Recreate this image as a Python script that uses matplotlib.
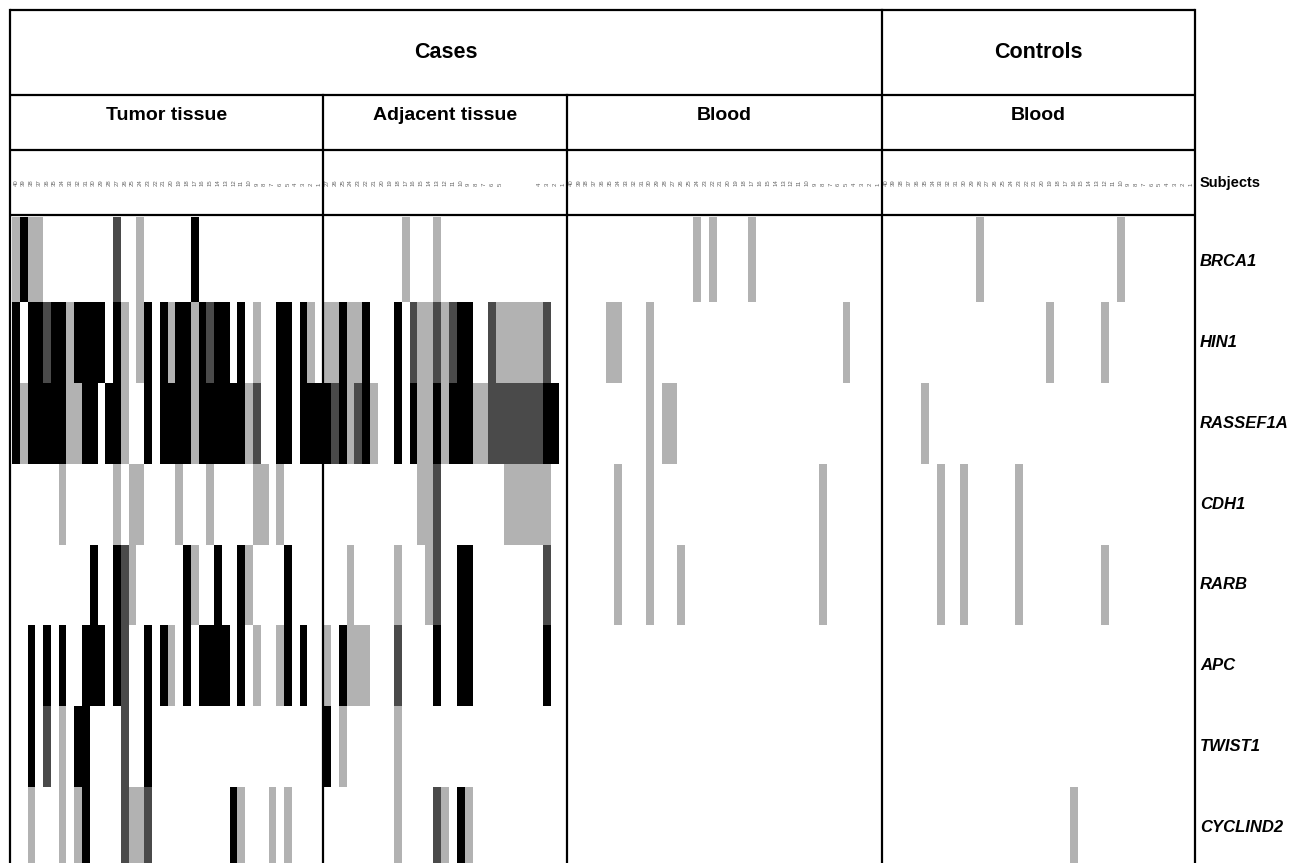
import matplotlib
matplotlib.use("Agg")
import matplotlib.pyplot as plt
import numpy as np
from matplotlib.colors import ListedColormap

# --- data: methylation status per subject (0 none, 1 light, 2 dark, 3 full) ---
genes = ["BRCA1", "HIN1", "RASSEF1A", "CDH1", "RARB", "APC", "TWIST1", "CYCLIND2"]
groups = ["Tumor tissue", "Adjacent tissue", "Blood", "Blood"]
top_groups = ["Cases", "Controls"]

tumor_rows = [
    "1311000000" "0002001000" "0003000000" "0000000000",
    "3033233133" "3303101303" "1331323303" "0100330310",
    "3133333113" "3033100303" "3331333333" "1200330333",
    "0000001000" "0001011000" "0100010000" "0110100000",
    "0000000000" "3003210000" "0031003003" "1000030000",
    "0030303003" "3303200303" "1030333303" "0100130300",
    "0030201033" "0000200300" "0000000000" "0000000000",
    "0010001013" "0000211200" "0000000031" "0001010000",
]
adjacent_rows = [
    "0000000000" "1000100000" "0000000000" "0",
    "1131130003" "0211212330" "0211111120" "0",
    "3231231003" "0311313331" "1222222233" "0",
    "0000000000" "0011200000" "0001111110" "0",
    "0001000001" "0001200330" "0000000020" "0",
    "1031110002" "0000300330" "0000000030" "0",
    "3010000001" "0000000000" "0000000000" "0",
    "0000000001" "0000210310" "0000000000" "0",
]
case_blood_rows = [
    "0000000000" "0000001010" "0001000000" "0000000000",
    "0000011000" "1000000000" "0000000000" "0000010000",
    "0000000000" "1011000000" "0000000000" "0000000000",
    "0000001000" "1000000000" "0000000000" "0010000000",
    "0000001000" "1000100000" "0000000000" "0010000000",
    "0" * 40,
    "0" * 40,
    "0" * 40,
]
control_blood_rows = [
    "0000000000" "0010000000" "0000000000" "1000000000",
    "0000000000" "0000000000" "0100000010" "0000000000",
    "0000010000" "0000000000" "0000000000" "0000000000",
    "0000000100" "1000000100" "0000000000" "0000000000",
    "0000000100" "1000000100" "0000000010" "0000000000",
    "0" * 40,
    "0" * 40,
    "0000000000" "0000000000" "0000100000" "0000000000",
]

# subject id labels (adjacent tissue has 4 unlabelled subjects)
tumor_ids = [str(i) for i in range(40, 0, -1)]
adjacent_ids = [str(i) for i in range(27, 4, -1)] + [""] * 4 + ["4", "3", "2", "1"]
case_blood_ids = [str(i) for i in range(40, 0, -1)]
control_ids = [str(i) for i in range(40, 0, -1)]


def to_matrix(rows):
    return np.array([[int(c) for c in r] for r in rows])


panels = [
    (to_matrix(tumor_rows), tumor_ids),
    (to_matrix(adjacent_rows), adjacent_ids),
    (to_matrix(case_blood_rows), case_blood_ids),
    (to_matrix(control_blood_rows), control_ids),
]

# --- layout (pixels) ---
W, H = 1293, 863
xb = [10, 323, 567, 882, 1195]     # group borders
heat_x0 = [12, 323, 567, 882]      # first cell column of each panel
y_top, y_h1, y_h2, y_h3 = 10, 95, 150, 215
heat_top, grid_top, heat_bot = 217, 221, 868

plt.rcParams["font.family"] = ["Liberation Sans", "DejaVu Sans"]
cmap = ListedColormap(["white", "#b2b2b2", "#4a4a4a", "black"])

fig = plt.figure(figsize=(W / 100, H / 100), dpi=100)
fig.patch.set_facecolor("white")

row_h = (heat_bot - grid_top) / len(genes)
y0 = -(grid_top - heat_top) / row_h      # first row reaches up to the frame line
y_edges = np.r_[y0, np.arange(1, len(genes) + 1)]

for k, (mat, ids) in enumerate(panels):
    x0, x1 = heat_x0[k], xb[k + 1]
    ax = fig.add_axes([x0 / W, 1 - heat_bot / H, (x1 - x0) / W, (heat_bot - heat_top) / H])
    ax.pcolormesh(np.arange(mat.shape[1] + 1), y_edges, mat, cmap=cmap, vmin=-0.5, vmax=3.5)
    ax.set_xlim(0, mat.shape[1])
    ax.set_ylim(len(genes), y0)
    ax.set_xticks(np.arange(mat.shape[1]) + 0.5)
    ax.set_xticklabels(ids, rotation=90, fontsize=4.3, color="#666666")
    ax.xaxis.tick_top()
    ax.tick_params(axis="x", length=0, pad=22)
    ax.set_yticks([])
    for s in ax.spines.values():
        s.set_visible(False)

# overlay for frame lines and text
ov = fig.add_axes([0, 0, 1, 1], zorder=5)
ov.set_xlim(0, W)
ov.set_ylim(H, 0)
ov.axis("off")
ov.patch.set_alpha(0)

lw = 1.6
for y in [y_top, y_h1, y_h2, y_h3]:
    ov.plot([xb[0], xb[-1]], [y, y], color="black", lw=lw, solid_capstyle="butt")
for x in [xb[0], xb[-1]]:
    ov.plot([x, x], [y_top, H + 5], color="black", lw=lw)
ov.plot([xb[3], xb[3]], [y_top, H + 5], color="black", lw=lw)
for x in [xb[1], xb[2]]:
    ov.plot([x, x], [y_h1, H + 5], color="black", lw=lw)

ov.text((xb[0] + xb[3]) / 2, (y_top + y_h1) / 2, top_groups[0], ha="center", va="center",
        fontsize=15.5, fontweight="bold")
ov.text((xb[3] + xb[4]) / 2, (y_top + y_h1) / 2, top_groups[1], ha="center", va="center",
        fontsize=15.5, fontweight="bold")
for k, g in enumerate(groups):
    ov.text((xb[k] + xb[k + 1]) / 2, 116, g, ha="center", va="center",
            fontsize=14, fontweight="bold")

ov.text(xb[-1] + 5, (y_h2 + y_h3) / 2 + 1, "Subjects", ha="left", va="center",
        fontsize=10.5, fontweight="bold")
for i, g in enumerate(genes):
    ov.text(xb[-1] + 5, grid_top + row_h * (i + 0.5), g, ha="left", va="center",
            fontsize=12, fontweight="bold", style="italic")

fig.savefig("out.png", dpi=100, facecolor="white")
